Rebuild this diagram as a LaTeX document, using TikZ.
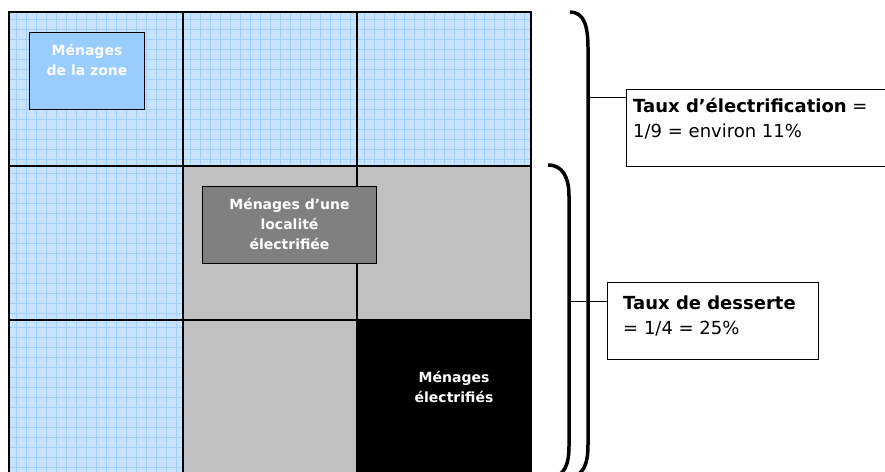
\documentclass[tikz,border=0pt]{standalone}
\usepackage{fontspec}
\setmainfont{DejaVu Sans}
\usepackage{tikz}
\usetikzlibrary{positioning, calc}

\definecolor{zoneblue}{RGB}{153,204,255}
\definecolor{hatchbase}{RGB}{200,227,255}
\definecolor{hatchline}{RGB}{163,207,255}
\definecolor{cellgray}{RGB}{192,192,192}
\definecolor{boxgray}{RGB}{128,128,128}

\begin{document}
\begin{tikzpicture}[
    x=1pt, y=-1pt,
    node distance=0pt,
    cell/.style={draw, line width=1.2pt, minimum width=174pt, minimum height=154pt,
                 inner sep=0pt, outer sep=0pt},
    hatched/.style={cell, fill=hatchbase,
                    path picture={\draw[hatchline, line width=1pt]
                      (path picture bounding box.south west) grid[step=10pt]
                      (path picture bounding box.north east);}},
    lit/.style={cell, fill=cellgray},
    onbox/.style={draw, line width=1pt, inner sep=0pt},
    celltext/.style={text=white, font=\fontsize{14}{20}\selectfont\bfseries,
                     align=center, inner sep=0pt},
    infobox/.style={draw, line width=1pt, fill=white, inner sep=0pt},
    infotext/.style={font=\fontsize{18}{25}\selectfont, align=left, inner sep=0pt,
                     anchor=north west},
    brace/.style={line width=3.5pt},
    link/.style={line width=1pt},
]
\useasboundingbox (0,0) rectangle (885,471);
\clip (0,0) rectangle (885,471);

% grille des menages
\node[hatched, anchor=north west] (c11) at (9,12) {};
\node[hatched, right=of c11] (c12) {};
\node[hatched, right=of c12] (c13) {};
\node[hatched, below=of c11] (c21) {};
\node[lit, right=of c21] (c22) {};
\node[lit, right=of c22] (c23) {};
\node[hatched, below=of c21] (c31) {};
\node[lit, right=of c31] (c32) {};
\node[cell, fill=black, right=of c32] (c33) {};

\node[onbox, fill=zoneblue, minimum width=115pt, minimum height=77pt, anchor=north west] (zone) at (29,32) {};
\node[celltext, anchor=north] (zonetxt) at ([yshift=-12pt]zone.north) {Ménages\\de la zone};

\node[onbox, fill=boxgray, minimum width=174pt, minimum height=77pt, anchor=north west] (local) at (202,186) {};
\node[celltext, anchor=north] (localtxt) at ([yshift=-12pt]local.north) {Ménages d’une\\localité\\électrifiée};

\node[celltext] (littxt) at ([xshift=10pt,yshift=10pt]c33.center) {Ménages\\électrifiés};

% accolades
\coordinate (bigtip) at (588,97);
\coordinate (smalltip) at (569,301);
\draw[brace] (570,12) .. controls (584,12) and (588,26) .. (588,48) -- (588,444)
    .. controls (588,464) and (584,476) .. (568,478);
\draw[brace] (548,165) .. controls (563,165) and (569,178) .. (569,196) -- (569,446)
    .. controls (569,464) and (565,476) .. (550,478);

% taux
\node[infobox, minimum width=290pt, minimum height=77pt, anchor=north west] (elec) at (626,89) {};
\node[infotext] (electxt) at ([xshift=7pt,yshift=-9pt]elec.north west)
    {\textbf{Taux d’électrification} =\\1/9 = environ 11\%};
\node[infobox, minimum width=211pt, minimum height=77pt, anchor=north west] (serve) at (607,282) {};
\node[infotext] (servetxt) at ([xshift=16pt,yshift=-14pt]serve.north west)
    {\textbf{Taux de desserte}\\= 1/4 = 25\%};

\draw[link] (bigtip) -- (bigtip -| elec.west);
\draw[link] (smalltip) -- (smalltip -| serve.west);

\end{tikzpicture}
\end{document}
